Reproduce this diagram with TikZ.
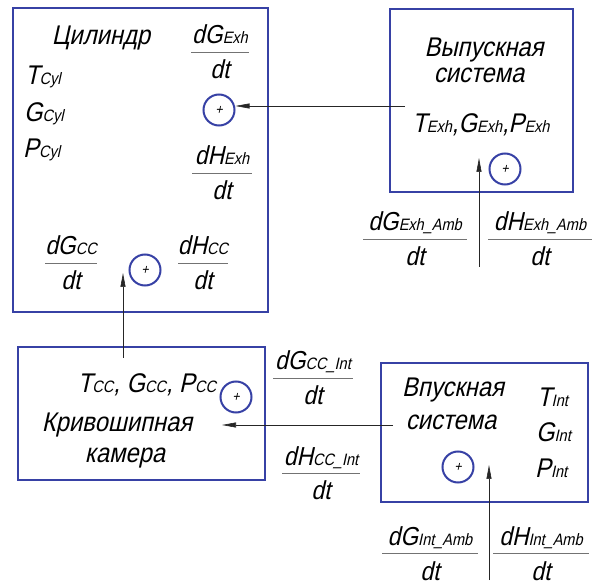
\documentclass[tikz,border=0pt]{standalone}
\usepackage{fontspec}
\setmainfont{Liberation Sans}[FakeSlant=0.22, FakeStretch=0.88]
\usetikzlibrary{arrows.meta}
\definecolor{boxblue}{RGB}{55,65,165}
\newcommand\sbs[1]{{\fontsize{16.5}{16.5}\selectfont #1}}
\tikzset{
  blk/.style={draw=boxblue, line width=2.5pt, inner sep=0pt},
  ttl/.style={inner sep=0pt, anchor=base, font=\fontsize{27}{27}\selectfont},
  var/.style={inner sep=0pt, anchor=base west, font=\fontsize{27}{27}\selectfont},
  frtxt/.style={inner sep=0pt, anchor=base, font=\fontsize{26}{26}\selectfont},
  frline/.style={draw=black!55, line width=0.7pt},
  sumc/.style={circle, draw=boxblue, line width=2pt, minimum size=31pt, inner sep=0pt, font=\fontsize{14}{14}\selectfont},
  conn/.style={draw=black!85, line width=0.6pt, -{Triangle[length=14pt,width=5pt]}}
}
\newcommand\frc[5]{%
  \node[frtxt] (#1n) at (#2,#3-8) {#4};
  \node[frtxt] (#1d) at (#2,#3+27) {dt};
  \draw[frline] (#2-#5,#3) -- (#2+#5,#3);
}
\begin{document}
\begin{tikzpicture}[x=1pt,y=-1pt]
\useasboundingbox (0,0) rectangle (598,588);
% boxes
\node[blk, minimum width=255pt, minimum height=304pt] (cyl) at (140.5,160) {};
\node[blk, minimum width=183pt, minimum height=183pt] (exh) at (481.5,100.5) {};
\node[blk, minimum width=247pt, minimum height=133pt] (cc) at (141.5,413.5) {};
\node[blk, minimum width=207pt, minimum height=139pt] (int) at (484.5,432.5) {};
% cylinder
\node[ttl] (cylT) at (101,45) {Цилиндр};
\node[var] (tcyl) at (25,85) {T\sbs{Cyl}};
\node[var] (gcyl) at (24,122) {G\sbs{Cyl}};
\node[var] (pcyl) at (23,158) {P\sbs{Cyl}};
\frc{fGexh}{220}{52}{dG\sbs{Exh}}{29}
\frc{fHexh}{222}{173}{dH\sbs{Exh}}{30}
\frc{fGcc}{71}{263}{dG\sbs{CC}}{26}
\frc{fHcc}{203}{263}{dH\sbs{CC}}{25}
\node[sumc] (s1) at (219,110) {+};
\node[sumc] (s2) at (145,270) {+};
% exhaust
\node[ttl] (exhT1) at (484,57) {Выпускная};
\node[ttl] (exhT2) at (479,83) {система};
\node[ttl] (exhV) at (481,133) {T\sbs{Exh},G\sbs{Exh},P\sbs{Exh}};
\node[sumc] (s3) at (505,169) {+};
\frc{fGexhamb}{415}{239}{dG\sbs{Exh\_Amb}}{52}
\frc{fHexhamb}{540}{239}{dH\sbs{Exh\_Amb}}{52}
% crankcase
\node[ttl] (ccV) at (147,393) {T\sbs{CC}, G\sbs{CC}, P\sbs{CC}};
\node[ttl] (ccT1) at (117,432) {Кривошипная};
\node[ttl] (ccT2) at (125,463) {камера};
\node[sumc] (s4) at (236,397) {+};
\frc{fGccint}{313}{378}{dG\sbs{CC\_Int}}{40}
\frc{fHccint}{321}{473}{dH\sbs{CC\_Int}}{39}
% intake
\node[ttl] (intT1) at (453,397) {Впускная};
\node[ttl] (intT2) at (451,430) {система};
\node[var] (tint) at (537,407) {T\sbs{Int}};
\node[var] (gint) at (536,442) {G\sbs{Int}};
\node[var] (pint) at (535,478) {P\sbs{Int}};
\node[sumc] (s5) at (458,467) {+};
\frc{fGintamb}{430}{553}{dG\sbs{Int\_Amb}}{48}
\frc{fHintamb}{541}{553}{dH\sbs{Int\_Amb}}{48}
% connectors
\coordinate (a1) at (405,106);
\draw[conn] (a1) -- (a1 -| s1.east);
\coordinate (b1) at (479,267);
\coordinate (b2) at (479,158);
\draw[conn] (b1) -- (b2);
\coordinate (c1) at (393,425);
\coordinate (c2) at (222,425);
\draw[conn] (c1) -- (c2);
\coordinate (d1) at (123,358);
\coordinate (d2) at (123,273);
\draw[conn] (d1) -- (d2);
\coordinate (e1) at (489,580);
\coordinate (e2) at (489,465);
\draw[conn] (e1) -- (e2);
\end{tikzpicture}
\end{document}
